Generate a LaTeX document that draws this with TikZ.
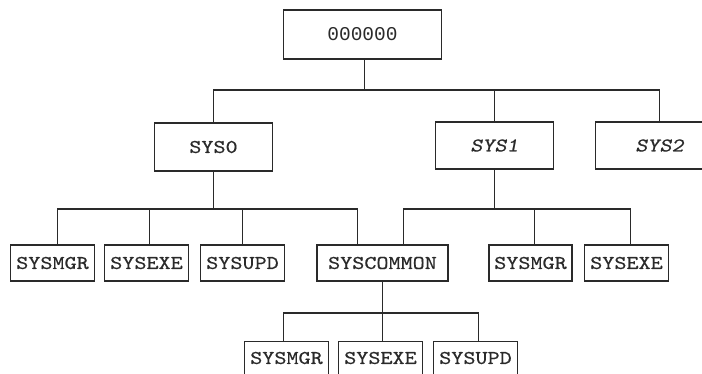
\documentclass[tikz,border=0pt]{standalone}
\usepackage{fontspec}
\newfontfamily\boxfont[Extension=.otf,UprightFont=lmmono10-regular,ItalicFont=lmmonoslant10-regular,FakeStretch=1.18,FakeBold=0.5]{lmmono10}
\newfontfamily\rootfont{Liberation Mono}
\definecolor{ink}{HTML}{2A2A2A}
\begin{document}
\begin{tikzpicture}[x=1pt,y=-1pt,
  box/.style={draw=ink,line width=1.3pt,inner sep=0pt,text=ink,font=\boxfont\fontsize{19.5}{20}\selectfont},
  lbl/.style={inner sep=0pt,text=ink,font=\boxfont\fontsize{19.5}{20}\selectfont},
  top/.style={box,minimum width=117pt,minimum height=47pt},
  leaf/.style={box,minimum width=84pt,minimum height=36pt},
  conn/.style={draw=ink,line width=1.3pt}]
\useasboundingbox (0,0) rectangle (702,374);
\clip (0,0) rectangle (702,374);
\fill[white] (0,0) rectangle (702,374);
\node[box,minimum width=158pt,minimum height=49pt,font=\rootfont\fontsize{19.5}{20}\selectfont] (root) at (362.5,34.5) {000000};
\node[top,minimum width=118pt,minimum height=48pt] (sys0) at (213.5,147) {SYS0};
\node[top,minimum width=118pt] (sys1) at (494.5,145.5) {\itshape SYS1};
\node[top,minimum width=128pt] (sys2) at (659.5,145.5) {\itshape SYS2};
\node[leaf] (a1) at (52.5,263) {SYSMGR};
\node[leaf] (a2) at (146.5,263) {SYSEXE};
\node[leaf] (a3) at (242.5,263) {SYSUPD};
\node[leaf,minimum width=131pt] (cm) at (382.5,263) {SYSCOMMON};
\node[leaf,minimum width=83pt] (b1) at (530.5,263) {SYSMGR};
\node[leaf] (b2) at (626.5,263) {SYSEXE};
\node[leaf,minimum height=64pt,anchor=north] (c1) at (286.5,341) {};
\node[leaf,minimum height=64pt,anchor=north] (c2) at (380.5,341) {};
\node[leaf,minimum height=64pt,anchor=north] (c3) at (475.5,341) {};
\node[lbl] (c1t) at (c1.north |- 0,358) {SYSMGR};
\node[lbl] (c2t) at (c2.north |- 0,358) {SYSEXE};
\node[lbl] (c3t) at (c3.north |- 0,358) {SYSUPD};
% connectors
\draw[conn] ([xshift=2pt]root.south) -- ++(0,30.5) -| (sys0.north);
\draw[conn] ([xshift=2pt]root.south) -- ++(0,30.5) -| (sys1.north);
\draw[conn] ([xshift=2pt]root.south) -- ++(0,30.5) -| (sys2.north);
\draw[conn] (sys0.south) -- ++(0,37.5) -| ([xshift=5pt]a1.north);
\draw[conn] (sys0.south) -- ++(0,37.5) -| ([xshift=3pt]a2.north);
\draw[conn] (sys0.south) -- ++(0,37.5) -| (a3.north);
\draw[conn] (sys0.south) -- ++(0,37.5) -| ([xshift=-25pt]cm.north);
\draw[conn] (sys1.south) -- ++(0,39.5) -| ([xshift=21pt]cm.north);
\draw[conn] (sys1.south) -- ++(0,39.5) -| ([xshift=4pt]b1.north);
\draw[conn] (sys1.south) -- ++(0,39.5) -| ([xshift=4pt]b2.north);
\draw[conn] (cm.south) -- ++(0,31.5) -| ([xshift=-3pt]c1.north);
\draw[conn] (cm.south) -- ++(0,31.5) -| ([xshift=2pt]c2.north);
\draw[conn] (cm.south) -- ++(0,31.5) -| ([xshift=3pt]c3.north);
\end{tikzpicture}
\end{document}
